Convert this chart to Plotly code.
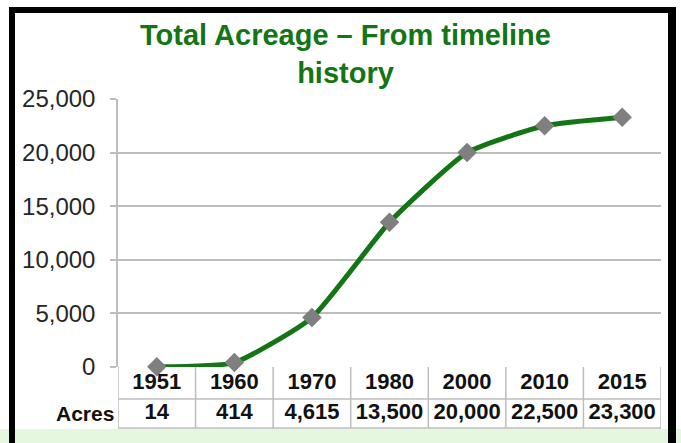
import plotly.graph_objects as go

years = ["1951", "1960", "1970", "1980", "2000", "2010", "2015"]
acres = [14, 414, 4615, 13500, 20000, 22500, 23300]
acre_labels = ["14", "414", "4,615", "13,500", "20,000", "22,500", "23,300"]
y_ticks = [0, 5000, 10000, 15000, 20000, 25000]
y_tick_labels = ["0", "5,000", "10,000", "15,000", "20,000", "25,000"]
row_label = "Acres"
title_text = "Total Acreage – From timeline<br>history"

W, H = 681, 443
ML, MR, MT, MB = 118, 20, 99, 15
PW, PH = W - ML - MR, H - MT - MB
YMAX = 25000
AXIS_Y, ROW1_Y, ROW2_Y = 367, 399, 428   # pixel rows of the data-table lines

FONT = "Liberation Sans, Arial, sans-serif"
GREEN = "#137513"
GRID = "#bdbdbd"


def px(xp):
    return (xp - ML) / PW


def py(yp):
    return (H - MB - yp) / PH


split = py(AXIS_Y)
n = len(years)

fig = go.Figure()
fig.add_trace(go.Scatter(
    x=years, y=acres, mode="lines+markers",
    line=dict(color=GREEN, width=5, shape="spline", smoothing=0.5),
    marker=dict(symbol="diamond", size=15, color="#7f7f7f"),
    cliponaxis=False, hoverinfo="skip", xaxis="x", yaxis="y",
))
tfont = dict(family=FONT, size=22, color="#111111", weight="bold")
tab_h = ROW2_Y - AXIS_Y
fig.add_trace(go.Scatter(
    x=years, y=[ROW2_Y - (AXIS_Y + ROW1_Y) / 2] * n, mode="text", text=years,
    textfont=tfont, hoverinfo="skip", xaxis="x2", yaxis="y2", cliponaxis=False,
))
fig.add_trace(go.Scatter(
    x=years, y=[ROW2_Y - (ROW1_Y + ROW2_Y) / 2] * n, mode="text", text=acre_labels,
    textfont=tfont, hoverinfo="skip", xaxis="x2", yaxis="y2", cliponaxis=False,
))

shapes = []
shapes.append(dict(type="rect", xref="paper", yref="paper", x0=px(0), x1=px(W), y0=py(443), y1=py(429),
                   fillcolor="#e6f7df", line=dict(width=0), layer="below"))
for (x0, x1, y0, y1) in [(9, 15, 7, 443), (668, 676, 7, 443), (9, 676, 7, 13)]:
    shapes.append(dict(type="rect", xref="paper", yref="paper", x0=px(x0), x1=px(x1), y0=py(y1), y1=py(y0),
                       fillcolor="black", line=dict(width=0)))

tl = dict(color=GRID, width=1.5)
r1 = py(ROW1_Y)
r2 = py(ROW2_Y)
label_left = -0.5 - (118 - 53) / (PW / n)
for i in range(n + 1):
    shapes.append(dict(type="line", xref="x", yref="paper", x0=i - 0.5, x1=i - 0.5, y0=split, y1=r2, line=tl))
shapes.append(dict(type="line", xref="x", yref="paper", x0=label_left, x1=label_left, y0=r1, y1=r2, line=tl))
for yy in (r1, r2):
    shapes.append(dict(type="line", xref="x", yref="paper", x0=label_left, x1=n - 0.5, y0=yy, y1=yy, line=tl))

annotations = [
    dict(x=px(85), y=py((ROW1_Y + ROW2_Y) / 2), xref="paper", yref="paper", text=row_label, showarrow=False,
         xanchor="center", yanchor="middle", font=dict(tfont, size=21)),
    dict(x=px(345), y=py(54), xref="paper", yref="paper", text=title_text, showarrow=False,
         xanchor="center", yanchor="middle",
         font=dict(family=FONT, size=29, color=GREEN, weight="bold")),
]

fig.update_layout(
    width=W, height=H,
    margin=dict(l=ML, r=MR, t=MT, b=MB, autoexpand=False),
    paper_bgcolor="white", plot_bgcolor="white",
    showlegend=False,
    xaxis=dict(type="category", showticklabels=False, showgrid=False, zeroline=False, automargin=False,
               showline=False, ticks="", range=[-0.5, n - 0.5], anchor="y"),
    yaxis=dict(domain=[split, 1], range=[0, YMAX], tickvals=y_ticks, ticktext=y_tick_labels,
               showgrid=True, gridcolor=GRID, gridwidth=1.5, zeroline=False, automargin=False,
               showline=True, linecolor=GRID, linewidth=1.5,
               ticks="outside", ticklen=6, tickcolor=GRID, tickwidth=1.5, ticklabelstandoff=10,
               tickfont=dict(family=FONT, size=24, color="#262626"), anchor="x"),
    xaxis2=dict(type="category", matches="x", showticklabels=False, showgrid=False, zeroline=False,
                automargin=False, showline=False, ticks="", anchor="y2"),
    yaxis2=dict(domain=[0, split], range=[0, tab_h], visible=False, automargin=False, anchor="x2"),
    shapes=shapes, annotations=annotations,
)

fig.write_html("out.html", config={"displayModeBar": False},
               post_script="document.body.style.margin='0';document.body.style.overflow='hidden';")
